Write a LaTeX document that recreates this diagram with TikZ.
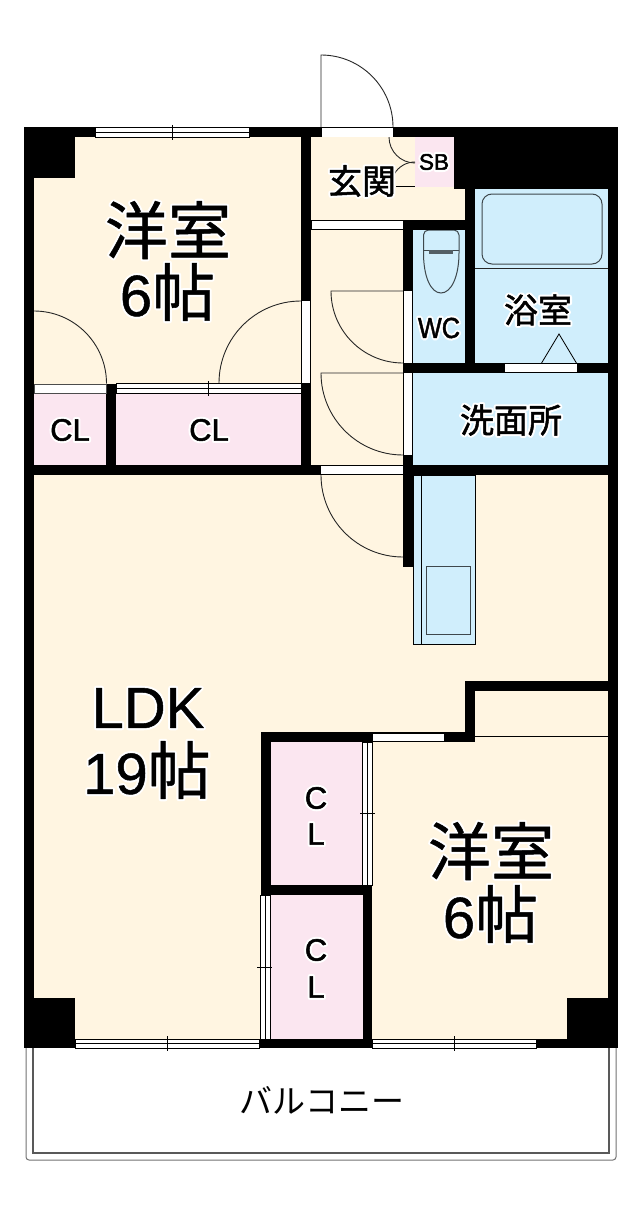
\documentclass[tikz,border=0pt]{standalone}
\usepackage{fontspec}
\setmainfont{Liberation Sans}
\newfontfamily\cjk{Noto Sans CJK JP}
\newcommand\halo[1]{\leavevmode\rlap{\special{pdf:code q 2 Tr 1 1 1 RG 1 1 1 rg 1 j 1 J 4.6 w}#1\special{pdf:code Q}}\special{pdf:code q 2 Tr 0 0 0 RG 0 0 0 rg 1 j 0.5 w}#1\special{pdf:code Q}}
\newcommand\tsu{\fontsize{63}{63}\selectfont\cjk}
\definecolor{cream}{HTML}{FFF5E1}
\definecolor{sky}{HTML}{D0EEFC}
\definecolor{rose}{HTML}{FBE6F0}
\tikzset{
  wall/.style={fill=black,draw=none},
  gap/.style={fill=white,draw=none},
  winframe/.style={fill=white,draw=black,line width=0.8pt},
  thin line/.style={draw=black,line width=0.8pt},
  swing/.style={draw=black!85,line width=0.9pt},
  fit line/.style={draw=black!70!sky,line width=1pt},
  roomlabel/.style={inner sep=0pt,font=\fontsize{58}{58}\selectfont,align=center},
  midlabel/.style={inner sep=0pt,font=\fontsize{34}{34}\selectfont\cjk},
  smalllabel/.style={inner sep=0pt,font=\fontsize{31}{31}\selectfont},
}
\begin{document}
\begin{tikzpicture}[x=1pt,y=-1pt]
\useasboundingbox[fill=white] (0,0) rectangle (642,1212);
% room fills
\fill[cream] (34,137) rectangle (301,384);
\fill[cream] (311,137) rectangle (465,465);
\fill[cream] (34,475) rectangle (608,1039);
\fill[rose] (34,393) rectangle (106,465);
\fill[rose] (116,393) rectangle (301,465);
\fill[rose] (415,137) rectangle (454,187);
\fill[rose] (270,742) rectangle (362,885);
\fill[rose] (270,895) rectangle (363,1039);
\fill[sky] (475,189) rectangle (608,363);
\fill[sky] (413,229) rectangle (465,363);
\fill[sky] (413,373) rectangle (608,465);
% balcony
\draw[draw=black!55,line width=1pt,rounded corners=3pt] (26,1048) -- (26,1160) -- (616,1160) -- (616,1048);
\draw[draw=black!65,line width=1.2pt] (33,1048) -- (33,1153) -- (609,1153) -- (609,1048);
% kitchen counter
\draw[thin line,fill=sky] (413,475) rectangle (475,644);
\draw[thin line] (421.7,475) -- (421.7,644);
\draw[fit line,fill=sky] (426.5,566) rectangle (470.7,634);
% bath fixtures
\draw[fit line,rounded corners=10pt] (482,194) rectangle (602,264);
\draw[draw=black!85,line width=1.4pt] (475,268.5) -- (608,268.5);
\draw[thin line] (541,364) -- (559,334) -- (577,364);
% toilet
\draw[fit line,rounded corners=5pt] (423.5,250) -- (423.5,230) -- (459,230) -- (459,250);
\draw[fit line] (423.5,250) .. controls (423,277) and (431,293) .. (441,293) .. controls (451,293) and (459.5,277) .. (459,250);
\draw[fit line] (423.5,250) -- (459,250);
\fill[black!60!sky] (429,250) rectangle (453,253.5);
% thin lines
\draw[thin line] (475,736) -- (608,736);
\draw[thin line] (396,186.5) -- (415,186.5);
% doors
\draw[swing] (321,128) -- (321,55) arc[start angle=-90,end angle=0,radius=72];
\draw[swing] (389,137) arc[start angle=180,end angle=90,radius=26];
\draw[swing] (415,162) arc[start angle=-90,end angle=-150,radius=24];
\draw[swing] (34,311) arc[start angle=-90,end angle=0,radius=72.5];
\draw[swing] (301,301) arc[start angle=-90,end angle=-180,radius=82];
\draw[swing] (403,291) -- (331,291) arc[start angle=180,end angle=90,radius=72];
\draw[swing] (403,373) -- (321,373) arc[start angle=180,end angle=90,radius=82];
\draw[swing] (321,475) arc[start angle=180,end angle=90,radius=82];
% walls
\fill[wall] (24,127) rectangle (34,1048);
\fill[wall] (608,127) rectangle (618,1048);
\fill[wall] (24,127) rectangle (454,137);
\fill[wall] (24,127) rectangle (75,178);
\fill[wall] (454,127) rectangle (618,189);
\fill[wall] (24,998) rectangle (75,1048);
\fill[wall] (567,998) rectangle (618,1048);
\fill[wall] (301,127) rectangle (311,475);
\fill[wall] (24,465) rectangle (618,475);
\fill[wall] (106,384) rectangle (116,465);
\fill[wall] (403,220) rectangle (475,229.5);
\fill[wall] (403,220) rectangle (413,567);
\fill[wall] (465,189) rectangle (475,373);
\fill[wall] (403,363) rectangle (618,373);
\fill[wall] (465,681) rectangle (618,691);
\fill[wall] (465,681) rectangle (475,742);
\fill[wall] (261,732) rectangle (475,742);
\fill[wall] (261,732) rectangle (271,895);
\fill[wall] (261,885) rectangle (372,895);
\fill[wall] (363,885) rectangle (372,1048);
\fill[wall] (260,1039) rectangle (372,1048);
\fill[wall] (536,1039) rectangle (608,1048);
% plain openings
\fill[gap] (322,128) rectangle (393,137);
\draw[thin line,fill=white] (311,220) rectangle (403,229.5);
\fill[gap] (302,301) rectangle (310,383);
\fill[gap] (404,291) rectangle (412,363);
\fill[gap] (404,373) rectangle (412,455);
\fill[gap] (505,364) rectangle (577,372);
\draw[draw=black!70,line width=0.8pt,fill=white] (34,384.5) rectangle (106,393);
\fill[gap] (321,466) rectangle (403,474);
\draw[thin line,fill=white] (372,733) rectangle (444,741);
% sliding windows
\draw[winframe] (95.5,127.5) rectangle (249.5,137) (95.5,132.2) -- (249.5,132.2) (172,125) -- (172,140);
\draw[winframe] (116,383.5) rectangle (301,393) (116,388.5) -- (301,388.5) (208,381) -- (208,396);
\draw[winframe] (75,1039) rectangle (259.5,1048) (75,1043.5) -- (259.5,1043.5) (167,1036) -- (167,1051);
\draw[winframe] (372,1039) rectangle (536.5,1048) (372,1043.5) -- (536.5,1043.5) (454,1036) -- (454,1051);
\draw[winframe] (362,742) rectangle (372,885) (367,742) -- (367,885) (360,813) -- (375,813);
\draw[winframe] (260,895) rectangle (270,1039) (265,895) -- (265,1039) (257,967) -- (272,967);
% labels
\node[roomlabel] (bed1a) at (168,230) {\halo{\tsu 洋室}};
\node[roomlabel] (bed1b) at (167.5,292) {\halo{6\tsu 帖}};
\node[roomlabel] (bed2a) at (491,851) {\halo{\tsu 洋室}};
\node[roomlabel] (bed2b) at (490.5,914) {\halo{6\tsu 帖}};
\node[roomlabel] (ldka) at (148,708) {\halo{LDK}};
\node[roomlabel] (ldkb) at (147,770) {\halo{19\tsu 帖}};
\node[midlabel] (entry) at (362,181) {\halo{玄関}};
\node[midlabel] (bath) at (538,310) {\halo{浴室}};
\node[midlabel] (wash) at (511,420) {\halo{洗面所}};
\node[midlabel,font=\fontsize{33}{33}\selectfont\cjk] (balc) at (322,1100) {バルコニー};
\node[inner sep=0pt,font=\fontsize{22.5}{22.5}\selectfont] (sb) at (434,162) {\halo{SB}};
\node[smalllabel,font=\fontsize{29}{29}\selectfont,xscale=.87] (wc) at (439,328) {\halo{WC}};
\node[smalllabel] (cl1) at (70,430) {\halo{CL}};
\node[smalllabel] (cl2) at (209,430) {\halo{CL}};
\node[smalllabel] (cl3c) at (316,798) {\halo{C}};
\node[smalllabel] (cl3l) at (316,834) {\halo{L}};
\node[smalllabel] (cl4c) at (316,950) {\halo{C}};
\node[smalllabel] (cl4l) at (316,987) {\halo{L}};
\end{tikzpicture}
\end{document}
